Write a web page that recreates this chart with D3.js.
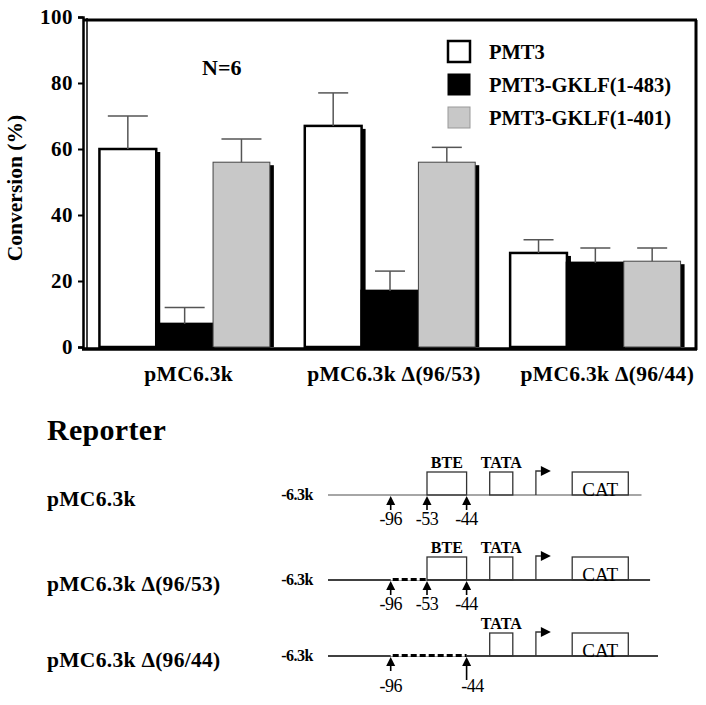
<!DOCTYPE html>
<html>
<head>
<meta charset="utf-8">
<script src="https://cdn.jsdelivr.net/npm/d3@7"></script>
<style>
  body { margin: 0; background: #fff; }
  text { font-family: "Liberation Serif", "Times New Roman", serif; }
</style>
</head>
<body>
<svg width="706" height="705"></svg>
<script>
// chart data
var groups = ["pMC6.3k", "pMC6.3k \u0394(96/53)", "pMC6.3k \u0394(96/44)"];
var series = ["PMT3", "PMT3-GKLF(1-483)", "PMT3-GKLF(1-401)"];
var seriesFill = ["#ffffff", "#000000", "#c8c8c8"];
var pmt3 = [60, 67, 28.5];
var gklf483 = [7, 17, 25.5];
var gklf401 = [56, 56, 26];
var pmt3Err = [10, 10, 4];
var gklf483Err = [5, 6, 4.5];
var gklf401Err = [7, 4.5, 4];
var yTicks = [0, 20, 40, 60, 80, 100];

// reporter diagram (schematic units along the construct)
var reporters = ["pMC6.3k", "pMC6.3k \u0394(96/53)", "pMC6.3k \u0394(96/44)"];
var siteLabels = ["-96", "-53", "-44"];
var sitePos = [19, 30, 42];
var sitesShown = [[0, 1, 2], [0, 1, 2], [0, 2]];
var deletions = [null, [19, 30], [19, 42]];
var hasBTE = [true, true, false];
var lineEnd = [95, 97.6, 100];
var bteBox = [30, 42];
var tataBox = [49, 56];
var promoterPos = 63;
var catBox = [74, 91];

var svg = d3.select("svg");

var values = [pmt3, gklf483, gklf401];
var errs = [pmt3Err, gklf483Err, gklf401Err];

var x0 = d3.scaleBand().domain(groups).range([83, 697]).paddingInner(0.17).paddingOuter(0.08);
var x1 = d3.scaleBand().domain(series).range([0, x0.bandwidth()]);
var y = d3.scaleLinear().domain([0, 100]).range([347, 17]);

// frame
svg.append("line").attr("x1", 83).attr("x2", 697).attr("y1", 20).attr("y2", 20)
  .attr("stroke", "#000").attr("stroke-width", 3);
svg.append("line").attr("x1", 696).attr("x2", 696).attr("y1", 20).attr("y2", 350)
  .attr("stroke", "#000").attr("stroke-width", 3);
svg.append("line").attr("x1", 87).attr("x2", 87).attr("y1", 18).attr("y2", 350)
  .attr("stroke", "#000").attr("stroke-width", 1.5);

// bars
groups.forEach(function(g, gi) {
  series.forEach(function(s, si) {
    var v = values[si][gi];
    var bx = x0(g) + x1(s);
    var bw = x1.bandwidth();
    svg.append("rect")
      .attr("x", bx + 4).attr("y", y(v) + 3)
      .attr("width", bw).attr("height", y(0) - y(v) - 3)
      .attr("fill", "#000");
    svg.append("rect")
      .attr("x", bx).attr("y", y(v))
      .attr("width", bw).attr("height", y(0) - y(v))
      .attr("fill", seriesFill[si])
      .attr("stroke", si === 2 ? "#444" : "#000")
      .attr("stroke-width", si === 2 ? 1 : 2.5);
  });
});

// error bars
groups.forEach(function(g, gi) {
  series.forEach(function(s, si) {
    var v = values[si][gi], e = errs[si][gi];
    var cx = x0(g) + x1(s) + x1.bandwidth() / 2;
    var cw = gi === 0 ? 20 : 15;
    var eb = svg.append("g").attr("stroke", "#555").attr("stroke-width", 1.5);
    eb.append("line").attr("x1", cx).attr("x2", cx).attr("y1", y(v)).attr("y2", y(v + e));
    eb.append("line").attr("x1", cx - cw).attr("x2", cx + cw).attr("y1", y(v + e)).attr("y2", y(v + e));
  });
});

// y axis
var yAxis = svg.append("g")
  .attr("transform", "translate(83,0)")
  .call(d3.axisLeft(y).tickValues(yTicks).tickSize(5).tickPadding(5));
yAxis.select(".domain").attr("stroke-width", 2.5);
yAxis.selectAll(".tick line").attr("stroke-width", 2);
yAxis.selectAll("text")
  .attr("font-size", 21).attr("font-weight", "bold")
  .attr("font-family", "Liberation Serif, Times New Roman, serif")
  .style("letter-spacing", "0.5px");

// bottom axis line
svg.append("line").attr("x1", 82).attr("x2", 697).attr("y1", 349).attr("y2", 349)
  .attr("stroke", "#000").attr("stroke-width", 3.5);

// category labels
svg.selectAll(".cat").data(groups).enter().append("text")
  .attr("x", function(d, i) { return x0(d) + x0.bandwidth() / 2 + (i === 2 ? 12 : 4); })
  .attr("y", 381)
  .attr("text-anchor", "middle")
  .attr("font-size", 21.5).attr("font-weight", "bold")
  .style("letter-spacing", "0.3px")
  .text(function(d) { return d; });

// y label
svg.append("text")
  .attr("transform", "translate(22,188) rotate(-90)")
  .attr("text-anchor", "middle")
  .attr("font-size", 21.5).attr("font-weight", "bold")
  .text("Conversion (%)");

svg.append("text").attr("x", 202).attr("y", 75)
  .attr("font-size", 22).attr("font-weight", "bold").text("N=6");

// legend
var legend = svg.append("g").attr("transform", "translate(448,41)");
series.forEach(function(s, i) {
  legend.append("rect")
    .attr("x", 0).attr("y", i * 33)
    .attr("width", 22).attr("height", 21)
    .attr("fill", seriesFill[i])
    .attr("stroke", i === 2 ? "#999" : "#000")
    .attr("stroke-width", i === 0 ? 2.5 : 1);
  legend.append("text")
    .attr("x", 41).attr("y", i * 33 + 18)
    .attr("font-size", 20.5).attr("font-weight", "bold")
    .text(s);
});

// ---- reporter diagram ----
svg.append("text").attr("x", 47).attr("y", 440)
  .attr("font-size", 30).attr("font-weight", "bold")
  .style("letter-spacing", "0.3px")
  .text("Reporter");

var xs = d3.scaleLinear().domain([0, 100]).range([328, 658]);
var rowY = d3.scaleOrdinal().domain(reporters).range([495, 580, 656]);

reporters.forEach(function(r, ri) {
  var ly = rowY(r);
  var row = svg.append("g");

  row.append("text").attr("x", 47).attr("y", ly + 11)
    .attr("font-size", 21.5).attr("font-weight", "bold")
    .style("letter-spacing", "0.3px").text(r);
  row.append("text").attr("x", 313).attr("y", ly + 5)
    .attr("text-anchor", "end")
    .attr("font-size", 16).attr("font-weight", "bold")
    .style("letter-spacing", "-0.5px").text("-6.3k");

  row.append("line").attr("x1", xs(0)).attr("x2", xs(lineEnd[ri]))
    .attr("y1", ly).attr("y2", ly)
    .attr("stroke", ri === 0 ? "#888" : "#000").attr("stroke-width", ri === 0 ? 1.5 : 1.3);

  if (deletions[ri]) {
    row.append("line").attr("x1", xs(deletions[ri][0])).attr("x2", xs(deletions[ri][1]))
      .attr("y1", ly - 1).attr("y2", ly - 1)
      .attr("stroke", "#fff").attr("stroke-width", 3);
    row.append("line").attr("x1", xs(deletions[ri][0]) + 2).attr("x2", xs(deletions[ri][1]))
      .attr("y1", ly - 0.5).attr("y2", ly - 0.5)
      .attr("stroke", "#000").attr("stroke-width", 3)
      .attr("stroke-dasharray", "6,3");
  }

  var boxes = [];
  if (hasBTE[ri]) boxes.push({ r: bteBox, label: "BTE" });
  boxes.push({ r: tataBox, label: "TATA" });
  boxes.forEach(function(b) {
    row.append("rect").attr("x", xs(b.r[0])).attr("y", ly - 23)
      .attr("width", xs(b.r[1]) - xs(b.r[0])).attr("height", 23)
      .attr("fill", "none").attr("stroke", "#333").attr("stroke-width", 1.3);
    row.append("text").attr("x", (xs(b.r[0]) + xs(b.r[1])) / 2).attr("y", ly - 27)
      .attr("text-anchor", "middle")
      .attr("font-size", 16).attr("font-weight", "bold").text(b.label);
  });

  // CAT
  row.append("rect").attr("x", xs(catBox[0])).attr("y", ly - 23)
    .attr("width", xs(catBox[1]) - xs(catBox[0])).attr("height", 23)
    .attr("fill", "none").attr("stroke", "#333").attr("stroke-width", 1.3);
  row.append("text").attr("x", (xs(catBox[0]) + xs(catBox[1])) / 2).attr("y", ly + 1)
    .attr("text-anchor", "middle").attr("font-size", 19).text("CAT");

  // promoter arrow
  var px = xs(promoterPos);
  row.append("path")
    .attr("d", "M" + px + "," + ly + "V" + (ly - 24) + "H" + (px + 5))
    .attr("fill", "none").attr("stroke", "#333").attr("stroke-width", 1.3);
  row.append("path")
    .attr("d", "M" + (px + 5) + "," + (ly - 29) + "L" + (px + 15) + "," + (ly - 24) + "L" + (px + 5) + "," + (ly - 19) + "Z")
    .attr("fill", "#000");

  // site arrows
  sitesShown[ri].forEach(function(si) {
    var sx = xs(sitePos[si]);
    var len = ri === 2 && si === 2 ? 24 : 15;
    row.append("line").attr("x1", sx).attr("x2", sx).attr("y1", ly + 6).attr("y2", ly + len)
      .attr("stroke", "#000").attr("stroke-width", 1.6);
    row.append("path")
      .attr("d", "M" + sx + "," + (ly + 1) + "L" + (sx + 4.5) + "," + (ly + 10) + "L" + (sx - 4.5) + "," + (ly + 10) + "Z")
      .attr("fill", "#000");
    row.append("text")
      .attr("x", sx + (ri === 2 && si === 2 ? 6 : 0))
      .attr("y", ly + (ri === 2 ? 36 : 30))
      .attr("text-anchor", "middle")
      .attr("font-size", 18).style("letter-spacing", "-0.5px")
      .text(siteLabels[si]);
  });
});
</script>
</body>
</html>
